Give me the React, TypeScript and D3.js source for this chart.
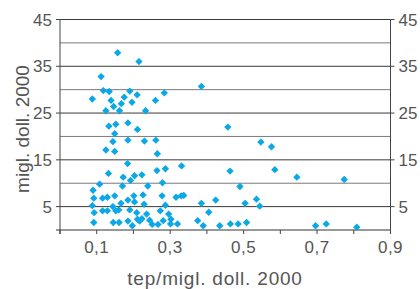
import * as d3 from 'd3'
import React from 'react'

// energy intensity (tep/migl. doll. 2000) vs GDP per head (migl. doll. 2000)
const intensity = [
  0.157, 0.215, 0.112, 0.118, 0.134, 0.190, 0.088, 0.139, 0.175, 0.210,
  0.196, 0.260, 0.146, 0.167, 0.125, 0.162, 0.233, 0.284, 0.385, 0.133,
  0.152, 0.185, 0.211, 0.149, 0.144, 0.185, 0.230, 0.261, 0.457, 0.547,
  0.576, 0.125, 0.149, 0.265, 0.184, 0.331, 0.264, 0.287, 0.132, 0.172,
  0.203, 0.223, 0.192, 0.108, 0.170, 0.239, 0.279, 0.463, 0.585, 0.645,
  0.774, 0.490, 0.090, 0.092, 0.116, 0.129, 0.149, 0.201, 0.226, 0.278,
  0.316, 0.330, 0.337, 0.088, 0.185, 0.203, 0.229, 0.166, 0.287, 0.385,
  0.405, 0.424, 0.504, 0.535, 0.544, 0.093, 0.116, 0.129, 0.144, 0.152,
  0.160, 0.190, 0.209, 0.236, 0.273, 0.296, 0.092, 0.145, 0.161, 0.185,
  0.197, 0.211, 0.217, 0.223, 0.244, 0.251, 0.267, 0.281, 0.301, 0.320,
  0.302, 0.375, 0.390, 0.435, 0.464, 0.485, 0.508, 0.696, 0.725, 0.808,
]
const gdp = [
  37.9, 36.0, 32.8, 29.8, 29.6, 29.7, 28.0, 27.7, 28.4, 28.9,
  27.3, 27.7, 26.4, 27.0, 25.5, 25.5, 25.5, 29.3, 30.7, 22.2,
  22.6, 22.9, 21.5, 20.6, 18.9, 19.2, 19.0, 19.2, 22.0, 18.8,
  17.8, 17.1, 16.8, 16.3, 14.2, 13.7, 12.7, 13.1, 12.1, 11.3,
  11.6, 11.8, 10.6, 9.8, 9.4, 9.4, 10.1, 12.6, 12.9, 11.3,
  10.8, 9.3, 8.5, 6.8, 6.8, 7.0, 7.3, 7.3, 7.5, 7.3,
  7.0, 7.3, 7.4, 5.2, 6.4, 6.0, 5.5, 5.7, 5.3, 5.7,
  3.8, 6.4, 5.7, 6.6, 5.1, 3.7, 4.1, 4.1, 5.0, 4.1,
  4.3, 4.3, 3.7, 3.4, 4.1, 3.4, 1.6, 1.6, 1.6, 1.9,
  0.9, 2.3, 1.9, 2.4, 2.1, 1.2, 1.2, 2.0, 1.3, 1.3,
  2.3, 2.0, 0.9, 0.9, 1.3, 1.3, 1.6, 0.9, 1.3, 0.6,
]

const xTicks = [0, 0.1, 0.2, 0.3, 0.4, 0.5, 0.6, 0.7, 0.8, 0.9]
const xLabels = [0.1, 0.3, 0.5, 0.7, 0.9]
const yGrid = [5, 10, 15, 20, 25, 30, 35, 40, 45]
const yLabels = [5, 15, 25, 35, 45]

const App = () => {
  const width = 420
  const height = 289
  const left = 60
  const right = 390.5
  const top = 19.5
  const bottom = 230

  const x = d3.scaleLinear().domain([0, 0.9]).range([left, right])
  const y = d3.scaleLinear().domain([0, 45]).range([bottom, top])
  const fmt = (v) => d3.format('.1f')(v).replace('.', ',')
  const marker = d3.symbol(d3.symbolSquare, 27)()
  const text = '#555'
  const font = '"Liberation Sans", Arial, sans-serif'

  return (
    <svg width={width} height={height} style={{ position: 'absolute', left: 0, top: 0 }}>
      <rect width={width} height={height} fill="#fff" />
      {yGrid.map((v) => (
        <line key={'g' + v} x1={left} x2={right} y1={y(v)} y2={y(v)}
          stroke={v % 10 === 5 ? '#3a3a3a' : '#7a7a7a'} strokeWidth={1} />
      ))}
      <line x1={left} x2={left} y1={top} y2={bottom + 4} stroke="#444" />
      <line x1={right} x2={right} y1={top} y2={bottom} stroke="#444" />
      <line x1={left - 4} x2={right} y1={bottom} y2={bottom} stroke="#333" />
      {yLabels.map((v) => (
        <g key={'y' + v}>
          <line x1={left - 4} x2={left} y1={y(v)} y2={y(v)} stroke="#444" />
          <line x1={right} x2={right + 4} y1={y(v)} y2={y(v)} stroke="#444" />
          <text x={left - 8} y={y(v)} dy="0.36em" textAnchor="end" fontSize={17}
            fontFamily={font} fill={text}>{v}</text>
          <text x={right + 8} y={y(v)} dy="0.36em" textAnchor="start" fontSize={17}
            fontFamily={font} fill={text}>{v}</text>
        </g>
      ))}
      {xTicks.map((v) => (
        <line key={'t' + v} x1={x(v)} x2={x(v)} y1={bottom} y2={bottom + 4} stroke="#444" />
      ))}
      {xLabels.map((v) => (
        <text key={'x' + v} x={x(v)} y={253} textAnchor="middle" fontSize={17}
          letterSpacing={0.5} fontFamily={font} fill={text}>{fmt(v)}</text>
      ))}
      {intensity.map((v, i) => (
        <path key={'p' + i} d={marker}
          transform={`translate(${x(v)},${y(gdp[i])}) rotate(45)`} fill="#0aa8e6" />
      ))}
      <text x={215} y={285} textAnchor="middle" fontSize={19} letterSpacing={0.8}
        fontFamily={font} fill={text}>tep/migl. doll. 2000</text>
      <text transform="translate(29,129) rotate(-90)" textAnchor="middle" fontSize={19}
        fontFamily={font} fill={text}>migl. doll. 2000</text>
    </svg>
  )
}

export default App
